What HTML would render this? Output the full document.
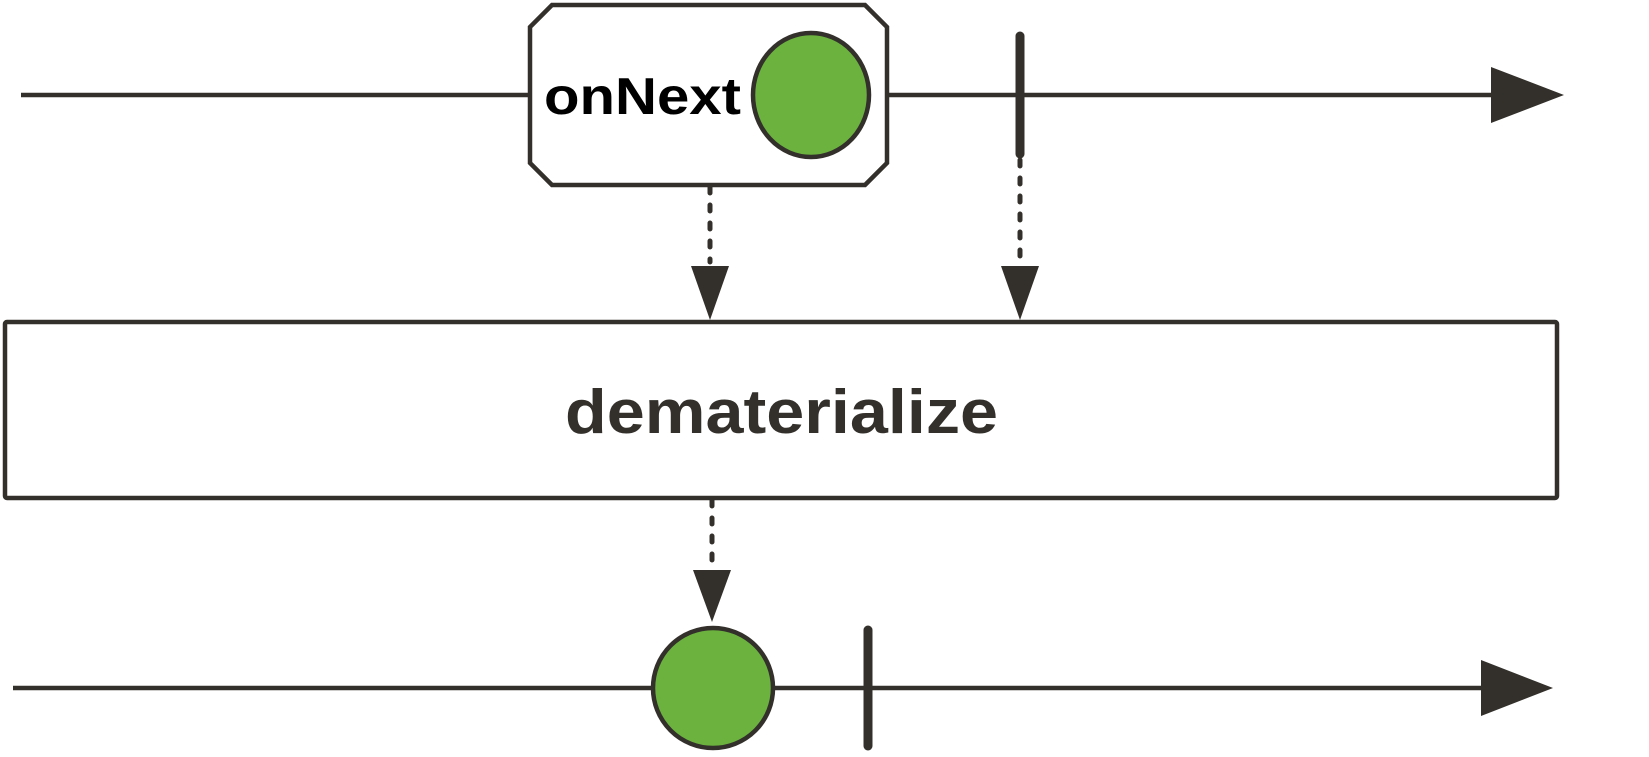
<!DOCTYPE html>
<html><head><meta charset="utf-8"><style>html,body{margin:0;padding:0;background:#fff}svg{display:block}</style></head>
<body>
<svg width="1649" height="757" viewBox="0 0 1649 757" xmlns="http://www.w3.org/2000/svg">
<g stroke="#33302b" fill="none" stroke-width="4.5">
<line x1="21" y1="95" x2="1500" y2="95"/>
<polygon points="1491,67 1564,95 1491,123" fill="#33302b" stroke="none"/>
<polygon points="552,5 865,5 887,27 887,163 865,185 552,185 530,163 530,27" fill="#fff"/>
<ellipse cx="811" cy="95" rx="58" ry="62" fill="#6bb23f"/>
<line x1="1020" y1="36" x2="1020" y2="154" stroke-width="9" stroke-linecap="round"/>
<line x1="710" y1="187" x2="710" y2="262" stroke-dasharray="6,12" stroke-linecap="round" stroke-width="5"/>
<line x1="1020" y1="160" x2="1020" y2="262" stroke-dasharray="6,12" stroke-linecap="round" stroke-width="5"/>
<polygon points="691,266 729,266 710,320" fill="#33302b" stroke="none"/>
<polygon points="1001,266 1039,266 1020,320" fill="#33302b" stroke="none"/>
<rect x="5" y="322" width="1552" height="176" rx="2" fill="#fff"/>
<line x1="712" y1="500" x2="712" y2="568" stroke-dasharray="6,12" stroke-linecap="round" stroke-width="5"/>
<polygon points="693,570 731,570 712,622" fill="#33302b" stroke="none"/>
<line x1="13" y1="688" x2="1490" y2="688"/>
<polygon points="1481,660 1553,688 1481,716" fill="#33302b" stroke="none"/>
<circle cx="713" cy="688" r="60" fill="#6bb23f"/>
<line x1="868" y1="630" x2="868" y2="746" stroke-width="9" stroke-linecap="round"/>
</g>
<text x="544" y="114" font-family="Liberation Sans, sans-serif" font-weight="bold" font-size="52" fill="#000" textLength="197" lengthAdjust="spacingAndGlyphs">onNext</text>
<text x="565" y="433" font-family="Liberation Sans, sans-serif" font-weight="bold" font-size="62" fill="#33302b" textLength="433" lengthAdjust="spacingAndGlyphs">dematerialize</text>
</svg>
</body></html>
